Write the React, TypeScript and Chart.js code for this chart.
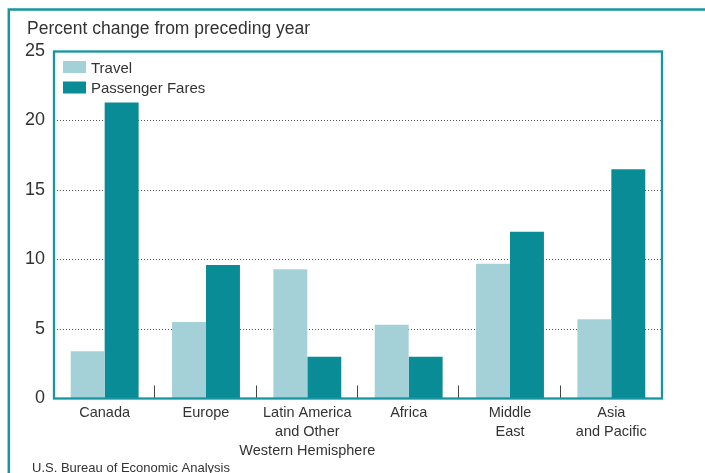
import React, { useEffect, useRef } from "react";
import { Chart, registerables } from "chart.js";

Chart.register(...registerables);

const categories: string[][] = [
  ["Canada"],
  ["Europe"],
  ["Latin America", "and Other", "Western Hemisphere"],
  ["Africa"],
  ["Middle", "East"],
  ["Asia", "and Pacific"],
];
const travel: number[] = [3.4, 5.5, 9.3, 5.3, 9.7, 5.7];
const passengerFares: number[] = [21.3, 9.6, 3.0, 3.0, 12.0, 16.5];
const seriesNames: string[] = ["Travel", "Passenger Fares"];
const yTicks: number[] = [0, 5, 10, 15, 20, 25];
const titleText = "Percent change from preceding year";
const sourceText = "U.S. Bureau of Economic Analysis";

const TEAL = "#0a8c97";
const FRAME = "#1596a0";
const LIGHT = "#a4d1d7";
const TEXT = "#333333";
const FONT = "'Liberation Sans', Arial, sans-serif";

const decorPlugin = {
  id: "decor",
  beforeDraw(chart: any) {
    const ctx = chart.ctx;
    ctx.save();
    ctx.fillStyle = "#ffffff";
    ctx.fillRect(0, 0, chart.width, chart.height);
    // outer frame
    ctx.strokeStyle = FRAME;
    ctx.lineWidth = 2.5;
    ctx.beginPath();
    ctx.moveTo(8.8, chart.height + 5);
    ctx.lineTo(8.8, 9.5);
    ctx.lineTo(chart.width + 5, 9.5);
    ctx.stroke();
    // title
    ctx.fillStyle = TEXT;
    ctx.font = `17.5px ${FONT}`;
    ctx.textBaseline = "alphabetic";
    ctx.textAlign = "left";
    ctx.fillText(titleText, 27, 34);
    // source
    ctx.font = `13px ${FONT}`;
    ctx.fillText(sourceText, 32, 471.5);
    ctx.restore();
  },
  afterDatasetsDraw(chart: any) {
    const ctx = chart.ctx;
    const { left, right, top, bottom } = chart.chartArea;
    const x = chart.scales.x;
    ctx.save();
    // category boundary ticks
    ctx.strokeStyle = "#444444";
    ctx.lineWidth = 1;
    const n = chart.data.labels.length;
    for (let i = 0; i < n; i++) {
      let px: number;
      if (i < n - 1) px = (x.getPixelForValue(i) + x.getPixelForValue(i + 1)) / 2 - 1;
      else px = right - 1.5;
      px = Math.round(px) + 0.5;
      ctx.beginPath();
      ctx.moveTo(px, bottom - 13);
      ctx.lineTo(px, bottom);
      ctx.stroke();
    }
    // plot frame
    ctx.strokeStyle = FRAME;
    ctx.lineWidth = 2.3;
    ctx.strokeRect(left, top + 0.5, right - left, bottom - top - 0.5);
    // legend
    const ds = chart.data.datasets;
    ctx.font = `15px ${FONT}`;
    ctx.textBaseline = "alphabetic";
    ctx.textAlign = "left";
    for (let i = 0; i < ds.length; i++) {
      const y = 61 + i * 20.5;
      ctx.fillStyle = ds[i].backgroundColor;
      ctx.fillRect(63, y, 23, 12);
      ctx.fillStyle = TEXT;
      ctx.fillText(ds[i].label, 91, y + 11.5);
    }
    ctx.restore();
  },
};

export default function App() {
  const ref = useRef<HTMLCanvasElement | null>(null);
  useEffect(() => {
    if (!ref.current) return;
    const chart = new Chart(ref.current, {
      type: "bar",
      data: {
        labels: categories,
        datasets: [
          {
            label: seriesNames[0],
            data: travel,
            backgroundColor: LIGHT,
            borderWidth: 0,
            categoryPercentage: 0.67,
            barPercentage: 1.0,
          },
          {
            label: seriesNames[1],
            data: passengerFares,
            backgroundColor: TEAL,
            borderWidth: 0,
            categoryPercentage: 0.67,
            barPercentage: 1.0,
          },
        ],
      },
      options: {
        animation: false,
        responsive: false,
        devicePixelRatio: 1,
        layout: { padding: { left: 0, right: 43, top: 51, bottom: 0 } },
        plugins: {
          legend: { display: false },
          tooltip: { enabled: false },
        },
        scales: {
          x: {
            grid: { display: false },
            border: { display: false },
            ticks: {
              color: TEXT,
              font: { family: FONT, size: 14.5, lineHeight: 1.3 },
              padding: -3,
              maxRotation: 0,
              autoSkip: false,
            },
            afterFit(scale: any) {
              scale.height = 74.5;
            },
          },
          y: {
            min: 0,
            max: 25,
            afterBuildTicks(scale: any) {
              scale.ticks = yTicks.map((v) => ({ value: v }));
            },
            grid: {
              color: (c: any) =>
                c.tick && (c.tick.value === 0 || c.tick.value === 25) ? "rgba(0,0,0,0)" : "#555555",
              lineWidth: 1,
              drawTicks: false,
              borderDash: [1, 2],
            } as any,
            border: { display: false, dash: [1, 2] },
            ticks: {
              color: TEXT,
              font: { family: FONT, size: 18 },
              padding: 9,
            },
            afterFit(scale: any) {
              scale.width = 54;
            },
          },
        },
      },
      plugins: [decorPlugin],
    });
    return () => chart.destroy();
  }, []);
  return (
    <div style={{ position: "absolute", left: 0, top: 0, width: 705, height: 473 }}>
      <canvas ref={ref} width={705} height={473} style={{ display: "block" }} />
    </div>
  );
}
